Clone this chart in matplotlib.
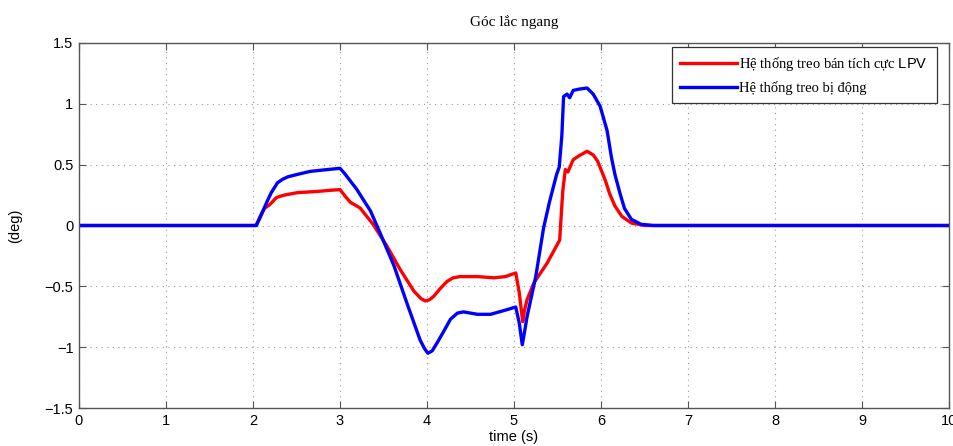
import numpy as np
import matplotlib.pyplot as plt

# Góc lắc ngang: hệ thống treo bán tích cực LPV và hệ thống treo bị động
t_active = [0, 2.03, 2.08, 2.13, 2.19, 2.23, 2.27, 2.36, 2.51, 2.74, 2.9, 3.0,
            3.06, 3.12, 3.23, 3.38, 3.54, 3.69, 3.85, 3.93, 3.98, 4.03, 4.08,
            4.15, 4.23, 4.3, 4.38, 4.58, 4.77, 4.9, 5.02, 5.06, 5.1, 5.12,
            5.15, 5.23, 5.38, 5.525, 5.56, 5.59, 5.62, 5.68, 5.74, 5.84, 5.91,
            5.96, 6.0, 6.05, 6.1, 6.16, 6.24, 6.35, 6.5, 10]
y_active = [0, 0, 0.06, 0.14, 0.17, 0.20, 0.23, 0.25, 0.27, 0.28, 0.29, 0.295,
            0.24, 0.19, 0.145, 0.01, -0.17, -0.36, -0.54, -0.60, -0.62, -0.61,
            -0.58, -0.52, -0.46, -0.43, -0.42, -0.42, -0.43, -0.42, -0.39,
            -0.55, -0.79, -0.70, -0.61, -0.47, -0.31, -0.12, 0.28, 0.46, 0.44,
            0.54, 0.57, 0.61, 0.58, 0.53, 0.46, 0.37, 0.26, 0.16, 0.075, 0.02,
            0, 0]

t_passive = [0, 2.04, 2.08, 2.13, 2.17, 2.21, 2.28, 2.34, 2.4, 2.51, 2.66, 2.86,
             3.0, 3.05, 3.19, 3.35, 3.46, 3.62, 3.77, 3.92, 3.97, 4.01, 4.06,
             4.12, 4.2, 4.27, 4.35, 4.42, 4.58, 4.73, 4.88, 5.02, 5.06, 5.095,
             5.12, 5.15, 5.25, 5.34, 5.41, 5.49, 5.52, 5.55, 5.57, 5.61, 5.64,
             5.68, 5.74, 5.84, 5.91, 5.99, 6.07, 6.12, 6.16, 6.22, 6.27, 6.35,
             6.46, 6.6, 10]
y_passive = [0, 0, 0.07, 0.145, 0.21, 0.27, 0.35, 0.38, 0.40, 0.42, 0.445, 0.46,
             0.47, 0.43, 0.30, 0.12, -0.06, -0.33, -0.64, -0.94, -1.01, -1.05,
             -1.03, -0.96, -0.86, -0.77, -0.72, -0.71, -0.73, -0.73, -0.70,
             -0.67, -0.80, -0.98, -0.88, -0.75, -0.42, -0.02, 0.20, 0.42, 0.48,
             0.74, 1.06, 1.08, 1.05, 1.11, 1.12, 1.13, 1.08, 0.98, 0.78, 0.56,
             0.42, 0.26, 0.14, 0.05, 0.01, 0, 0]

x_ticks = np.arange(0, 11, 1)
y_ticks = [-1.5, -1, -0.5, 0, 0.5, 1, 1.5]
y_ticklabels = ['\u22121.5', '\u22121', '\u22120.5', '0', '0.5', '1', '1.5']

sans = 'Liberation Sans'
serif = 'Liberation Serif'

# "LPV" trong chú giải dùng kiểu không chân qua mathtext
plt.rcParams['mathtext.fontset'] = 'custom'
plt.rcParams['mathtext.sf'] = sans
plt.rcParams['mathtext.rm'] = serif

fig = plt.figure(figsize=(9.54, 4.46), dpi=100)
ax = fig.add_axes([79 / 954, 38 / 446, 870 / 954, 365 / 446])

ax.plot(t_active, y_active, color='#ff0000', lw=2.4,
        label='Hệ thống treo bán tích cực $\\mathsf{LPV}$')
ax.plot(t_passive, y_passive, color='#0000ff', lw=2.4,
        label='Hệ thống treo bị động')

ax.set_xlim(0, 10)
ax.set_ylim(-1.5, 1.5)
ax.set_xticks(x_ticks)
ax.set_xticklabels([str(v) for v in x_ticks], family=sans, fontsize=10.5)
ax.set_yticks(y_ticks)
ax.set_yticklabels(y_ticklabels, family=sans, fontsize=10.5)
ax.tick_params(direction='in', length=5, top=True, right=True,
               color='#555555', pad=4)
ax.grid(True, linestyle=(0, (1, 4)), color='#999999', lw=0.8)
for sp in ax.spines.values():
    sp.set_color('#555555')
    sp.set_linewidth(1.0)

ax.set_xlabel('time (s)', family=sans, fontsize=10.5, labelpad=2)
ax.set_ylabel('(deg)', family=sans, fontsize=10.5, labelpad=16)
ax.set_title('Góc lắc ngang', family=serif, fontsize=11, pad=12)

leg = ax.legend(loc='upper right', bbox_to_anchor=(0.986, 0.99),
                prop={'family': serif, 'size': 10.5},
                fancybox=False, edgecolor='#333333', framealpha=1,
                handlelength=3.85, borderaxespad=0, borderpad=0.6,
                handletextpad=0.2, labelspacing=0.5)
leg.get_frame().set_linewidth(0.9)

fig.savefig('out.png', dpi=100)
